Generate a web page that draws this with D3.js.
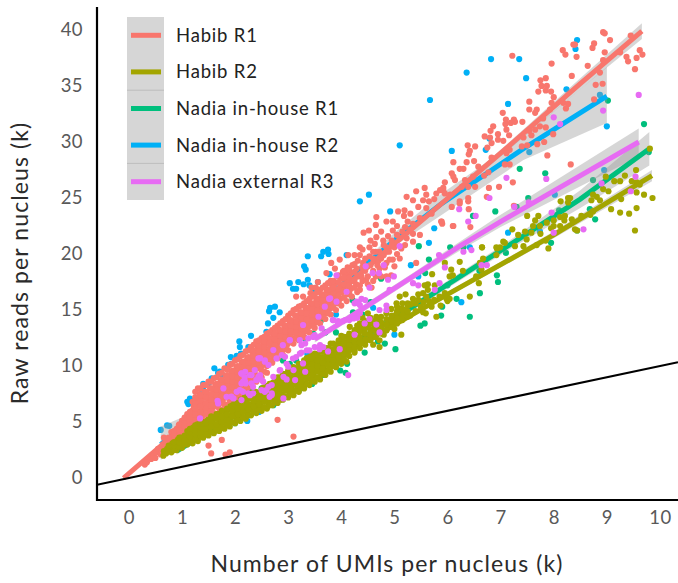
<!DOCTYPE html>
<html>
<head>
<meta charset="utf-8">
<script src="https://cdn.jsdelivr.net/npm/d3@7"></script>
<style>
  body { margin: 0; background: #fff; }
  text { font-family: Lato, sans-serif; }
</style>
</head>
<body>
<div id="chart-area"></div>
<script>
var xTicks = [0,1,2,3,4,5,6,7,8,9,10];
var yTicks = [0,5,10,15,20,25,30,35,40];
var names = ["Habib R1","Habib R2","Nadia in-house R1","Nadia in-house R2","Nadia external R3"];
var colors = ["#F8766D","#A3A500","#00BF7D","#00B0F6","#E76BF3"];

// fitted lines: x, y, lower, upper
var fitHabib1 = [[-.1,0,-.1,.1],[1,4.5,4.35,4.65],[3,12.7,12.55,12.85],[5,20.9,20.7,21.1],[7,29,28.7,29.3],[8.5,35.2,34.7,35.7],[9.66,39.9,39.2,40.6]];
var fitHabib2 = [[.6,2.2,2,2.4],[2,5.7,5.55,5.85],[3.5,9.6,9.45,9.75],[6,16.4,16.2,16.6],[8,21.7,21.4,22],[9.85,27,26.5,27.5]];
var fitNadia1 = [[.9,2.4,2.1,2.7],[2,5.6,5.4,5.8],[3.5,9.9,9.7,10.1],[5.35,15.3,15,15.6],[7.23,21,20.6,21.4],[8.5,24.9,24.1,25.7],[9.8,29.4,27.9,30.9]];
var fitNadia2 = [[.6,3,1.6,4.6],[1,4.5,3.2,5.4],[2,8.8,8.4,9.2],[4,17.2,16.9,17.5],[5,21.2,20.7,21.9],[5.86,24.4,23.4,25.3],[7.43,29.4,28.4,30.5],[9,34.1,31.7,36.7]];
var fitNadia3 = [[3.5,12.4,12.1,12.7],[3.78,13.2,12.9,13.5],[5.35,18,17.7,18.3],[6.23,20.7,20.3,21.1],[7,22.9,22.4,23.5],[9.6,30,28.7,31.2]];

var ptsHabib1 = [
[.3,1.2],[.34,1.4],[.42,1.7],[.46,2],[.5,1.8],[.52,2.3],[.55,2.6],[.6,2.1],[.62,2.6],[.64,3],[.7,2.4],[.68,2.9],[.72,3.4],[.66,3.6],
[.8,2.8],[.78,3.3],[.82,3.8],[.8,4.1],[.9,3],[.88,3.5],[.92,3.9],[.9,4.4],[.94,4.7],[1,3.2],[1.02,3.7],[.98,4.2],[1.03,4.7],[1,5.1],
[1.1,3.6],[1.08,4],[1.12,4.4],[1.09,4.9],[1.11,5.3],[1.1,5.7],[1.2,4.4],[1.22,4.8],[1.18,5.2],[1.21,5.6],[1.19,6],[1.22,6.4],[1.2,6.8],
[1.3,5],[1.32,5.5],[1.28,6],[1.31,6.5],[1.29,7],[1.33,7.5],[1.3,8],
[1.4,5.2],[1.38,5.7],[1.42,6.2],[1.39,6.7],[1.41,7.2],[1.43,7.7],[1.4,8.3],
[1.5,5.5],[1.52,6],[1.48,6.5],[1.51,7],[1.49,7.5],[1.53,8],[1.5,8.6],
[1.6,5.8],[1.58,6.3],[1.62,6.8],[1.59,7.3],[1.61,7.8],[1.63,8.3],[1.6,8.9],
[1.7,6.2],[1.72,6.7],[1.68,7.2],[1.71,7.7],[1.69,8.2],[1.73,8.7],[1.7,9.3],
[1.8,6.6],[1.78,7.1],[1.82,7.6],[1.79,8.1],[1.81,8.6],[1.83,9.1],[1.8,9.8],
[1.9,7],[1.92,7.5],[1.88,8],[1.91,8.5],[1.89,9],[1.93,9.5],[1.9,10.1],
[2,7.4],[1.98,7.9],[2.02,8.4],[1.99,8.9],[2.01,9.4],[2.03,9.9],[2,10.5],
[2.1,7.8],[2.12,8.3],[2.08,8.8],[2.11,9.3],[2.09,9.8],[2.13,10.3],[2.1,10.9],
[2.2,8.2],[2.18,8.7],[2.22,9.2],[2.19,9.7],[2.21,10.2],[2.23,10.7],[2.2,11.3],
[2.3,8.6],[2.32,9.1],[2.28,9.6],[2.31,10.1],[2.29,10.6],[2.33,11.1],[2.3,11.7],
[2.4,9.2],[2.38,9.7],[2.42,10.2],[2.39,10.7],[2.41,11.2],[2.43,11.7],[2.4,12.2],
[2.5,9.6],[2.52,10.1],[2.48,10.6],[2.51,11.1],[2.49,11.6],[2.53,12.1],[2.5,12.5],
[2.6,10],[2.58,10.5],[2.62,11],[2.59,11.5],[2.61,12],[2.63,12.5],[2.6,12.9],
[2.7,10.3],[2.72,10.8],[2.68,11.3],[2.71,11.8],[2.69,12.3],[2.73,12.8],[2.7,13.2],
[2.8,10.7],[2.78,11.2],[2.82,11.7],[2.79,12.2],[2.81,12.7],[2.83,13.2],[2.8,13.6],
[2.9,11],[2.92,11.5],[2.88,12],[2.91,12.5],[2.89,13],[2.93,13.5],[2.9,14],
[3,11.4],[2.98,11.9],[3.02,12.4],[2.99,12.9],[3.01,13.4],[3.03,13.9],[3,14.5],
[3.1,12],[3.12,12.5],[3.08,13],[3.11,13.5],[3.09,14],[3.13,14.5],[3.1,15],
[3.2,12.3],[3.18,12.8],[3.22,13.3],[3.19,13.8],[3.21,14.3],[3.23,14.8],[3.2,15.3],
[3.3,12.6],[3.32,13.1],[3.28,13.6],[3.31,14.1],[3.29,14.6],[3.33,15.1],[3.3,15.6],[3.15,16.2],[3.28,16.2],
[3.4,13],[3.38,13.5],[3.42,14],[3.39,14.5],[3.41,15],[3.43,15.5],[3.4,16],[3.44,17],[3.42,16.5],
[3.5,13.4],[3.52,13.9],[3.48,14.4],[3.51,14.9],[3.49,15.4],[3.53,15.9],[3.5,16.4],[3.52,17],[3.56,17.5],
[3.6,13.8],[3.58,14.3],[3.62,14.8],[3.59,15.3],[3.61,15.8],[3.63,16.3],[3.6,16.8],[3.72,18.3],
[3.7,14.2],[3.72,14.7],[3.68,15.2],[3.71,15.7],[3.69,16.2],[3.73,16.7],[3.7,17.2],[3.81,19.2],
[3.8,14.6],[3.78,15.1],[3.82,15.6],[3.79,16.1],[3.81,16.6],[3.83,17.1],[3.8,17.6],[3.88,18.7],[3.97,19.5],
[3.9,15],[3.92,15.6],[3.88,16.2],[3.91,16.8],[3.89,17.4],[3.93,18],
[4,15.4],[3.98,16],[4.02,16.6],[3.99,17.2],[4.01,17.8],[4.03,18.4],[4.13,19.9],[4.25,19.9],
[4.1,15.8],[4.12,16.4],[4.08,17],[4.11,17.6],[4.09,18.2],[4.12,18.8],
[4.2,16.2],[4.18,16.9],[4.22,17.6],[4.19,18.3],[4.21,19],[4.35,20.6],[4.53,20.6],
[4.3,16.6],[4.28,17.3],[4.32,18],[4.29,18.7],[4.31,19.4],[4.35,16.8],[4.41,19.2],[4.35,19.9],
[4.47,17.7],[4.57,17],[4.53,19.8],[4.45,18.5],[4.52,22.1],[4.42,21.9],[4.66,23.3],[4.65,22.6],[4.66,21.5],[4.63,20.9],[4.79,21.2],[4.85,20.6],
[4.72,18.7],[4.85,18],[4.94,18.1],[5,18.9],[4.91,19.5],[4.97,19.5],[4.85,22.9],[4.97,22.9],[4.97,22.1],[5.07,23.8],[5.19,23.9],[5.18,23.4],
[5,20.6],[5.13,20.5],[5.1,21.4],[5.23,21.4],[5.35,21.1],[5.35,21.8],[5.48,21.7],[5.35,22.7],[5.48,23.2],[5.6,24.1],[5.7,23.6],[5.35,24.8],[5.54,24.8],
[5.23,25.1],[5.41,25.6],[5.57,25.9],[5.6,25.3],[5.79,25.4],[5.92,25.7],[5.41,19.2],[5.88,22.9],[5.9,22.7],[6.1,22.5],[6.23,24.7],[6.4,24],
[4.6,19.6],[4.72,20.2],[4.55,21.2],[4.9,20.2],[4.75,22],[4.88,21.6],[5.05,22.5],[5.2,22.4],[5.25,22.9],[5.3,23.6],[5.45,24.2],[5.65,24.7],[5.75,24.9],
[4.5,18.9],[4.6,18.5],[4.4,20.4],[4.7,19.4],[4.8,19.9],[4.65,20.2],[4.8,20.8],[4.95,21.2],[5.05,21.7],[5.15,22],[5.3,22.2],[4.4,17.6],[4.5,17.3],[4.65,18],
[8.93,39.8],[8.96,39.7],[9.45,39.5],[9.62,38.2],[9.67,37.8],[9.56,37.5],[9.37,37.6],[9.4,37.2],[9.53,36.5],[9.06,39.1],[8.37,38.7],[8.4,38.7],[8.76,38.8],[8.73,38.4],
[8.17,38.2],[8.22,37.8],[8.43,37.6],[8.96,38],[9.25,38],[7.96,37],[8.64,36.8],[7.22,37.7],[8.34,35.9],[8.87,36.2],[8.93,37.3],[8.79,35.1],[8.92,35.2],[7.75,35.5],
[7.85,35.7],[7.77,35],[7.87,35],[7.85,34.6],[7.71,34.5],[7.95,34.5],[8,34],[7.54,33.6],[7.96,33.5],[8.18,33.5],[8.27,33.4],[8.76,33.8],[7.54,32.9],[7.68,32.9],
[7.65,32.6],[7.93,32.9],[8.23,33],[7.04,32.6],[7.1,32],[7.25,32],[7.19,31.7],[7.27,31.8],[7.41,31.8],[7.09,31.6],[7.8,32.1],[6.86,31.4],[6.81,31],[7.11,31.1],
[6.7,30.5],[6.95,30.7],[7.16,30.6],[7.54,31],[7.65,31.1],[7.74,31.4],[7.85,31.3],[7.58,30.6],[7.99,30.7],[7.43,30.4],[6.8,30.4],[6.95,30.2],[7.05,30.1],[6.83,29.9],
[6.75,29.5],[6.52,29.6],[6.38,29.7],[6.42,29.2],[6.4,28.9],[7.4,29.6],[7.5,29.7],[7.69,29.8],[7.82,30],[7.17,29.3],[7.11,29],[7.88,28.8],[6.83,28.6],[6.11,28.2],
[6.5,28.3],[6.36,28.2],[7.08,28],[7.17,28],[8.32,28],[6.58,27.8],[6.23,27.6],[6.3,27.6],[6.08,27.2],[6.11,26.9],[6.48,26.9],[6.77,27.3],[6.69,27],[6.14,26.6],
[5.95,26.4],[6.33,26.6],[6.27,26],[6.39,26],[6.52,26],[7.23,26.4],[6.97,26],[6.78,25.9],[5.92,25.9],[5.86,25.7],[5.95,25.4],[6.05,25.3],[6.74,25.1],[6.39,25],
[6.23,24.5],[6.08,24.2],[6.39,24.7],[7.25,24.3],[5.89,22.9],[6.11,22.5],[6.43,22.4],
[1.75,3.4],[1.5,2.9],[1.55,2.2],[1.82,2.1],[1.9,2.3],[2.8,5.2],[3.1,3.7]
];

// densest part of the Habib R1 cloud
var coreHabib1 = [
[.75,2.6],[.75,3.1],[.75,3.6],[.85,2.9],[.85,3.4],[.85,3.9],[.85,4.2],[.95,3.3],[.95,3.8],[.95,4.3],[.95,4.8],[1.05,3.6],[1.05,4.1],[1.05,4.6],[1.05,5.1],[1.05,5.4],[1.15,4.2],[1.15,4.6],[1.15,5.1],[1.15,5.5],[1.15,5.9],
[1.25,5.2],[1.25,5.7],[1.25,6.2],[1.25,6.7],[1.25,7.2],[1.25,7.7],[1.35,5.4],[1.35,5.9],[1.35,6.4],[1.35,6.9],[1.35,7.4],[1.35,8],
[1.45,5.7],[1.45,6.2],[1.45,6.7],[1.45,7.2],[1.45,7.7],[1.45,8.3],[1.55,6],[1.55,6.5],[1.55,7],[1.55,7.5],[1.55,8],[1.55,8.6],
[1.65,6.4],[1.65,6.9],[1.65,7.4],[1.65,7.9],[1.65,8.4],[1.65,9],[1.75,6.8],[1.75,7.3],[1.75,7.8],[1.75,8.3],[1.75,8.8],[1.75,9.4],
[1.85,7.2],[1.85,7.7],[1.85,8.2],[1.85,8.7],[1.85,9.2],[1.85,9.7],[1.95,7.6],[1.95,8.1],[1.95,8.6],[1.95,9.1],[1.95,9.6],[1.95,10.2],
[2.05,8],[2.05,8.5],[2.05,9],[2.05,9.5],[2.05,10],[2.05,10.6],[2.15,8.4],[2.15,8.9],[2.15,9.4],[2.15,9.9],[2.15,10.4],[2.15,11],
[2.25,8.8],[2.25,9.3],[2.25,9.8],[2.25,10.3],[2.25,10.8],[2.25,11.4],[2.35,9.4],[2.35,9.9],[2.35,10.4],[2.35,10.9],[2.35,11.4],[2.35,11.9],
[2.45,9.8],[2.45,10.3],[2.45,10.8],[2.45,11.3],[2.45,11.8],[2.45,12.3],[2.55,10.2],[2.55,10.7],[2.55,11.2],[2.55,11.7],[2.55,12.2],[2.55,12.6],
[2.65,10.5],[2.65,11],[2.65,11.5],[2.65,12],[2.65,12.5],[2.65,13],[2.75,10.9],[2.75,11.4],[2.75,11.9],[2.75,12.4],[2.75,12.9],[2.75,13.4],
[2.85,11.2],[2.85,11.7],[2.85,12.2],[2.85,12.7],[2.85,13.2],[2.85,13.8],[2.95,11.6],[2.95,12.1],[2.95,12.6],[2.95,13.1],[2.95,13.6],[2.95,14.2],
[3.05,12.1],[3.05,12.6],[3.05,13.1],[3.05,13.6],[3.05,14.1],[3.05,14.7],[3.15,12.5],[3.15,13],[3.15,13.5],[3.15,14],[3.15,14.5],[3.15,15.1],
[3.25,12.8],[3.25,13.3],[3.25,13.8],[3.25,14.3],[3.25,14.8],[3.25,15.4],[3.35,13.2],[3.35,13.7],[3.35,14.2],[3.35,14.7],[3.35,15.2],[3.35,15.8],
[3.45,13.6],[3.45,14.1],[3.45,14.6],[3.45,15.1],[3.45,15.6],[3.45,16.2],[3.55,14],[3.55,14.5],[3.55,15],[3.55,15.5],[3.55,16],[3.55,16.6],
[3.65,14.4],[3.65,14.9],[3.65,15.4],[3.65,15.9],[3.65,16.4],[3.65,17],[3.75,14.8],[3.75,15.3],[3.75,15.8],[3.75,16.3],[3.75,16.8],[3.75,17.4],
[3.85,15.2],[3.85,15.8],[3.85,16.4],[3.85,17],[3.85,17.6],[3.95,15.7],[3.95,16.3],[3.95,16.9],[3.95,17.5],[3.95,18.1],
[4.05,16.1],[4.05,16.7],[4.05,17.3],[4.05,17.9],[4.05,18.5],[4.15,16.5],[4.15,17.2],[4.15,17.9],[4.15,18.6],[4.25,17],[4.25,17.7],[4.25,18.4],[4.25,19.1],
[1.7,5.8],[1.8,6.2],[1.9,6.7],[2,7],[2.05,7.3],[2.1,7.4],[2.15,7.7],[2.2,7.8],[2.25,8.1],[2.3,8.2],[2.35,8.6],[2.4,8.6],[2.45,9.1],[2.5,9],[2.55,9.5],[2.6,9.4],
[4.35,17.2],[4.38,18],[4.4,18.8],[4.45,19.6],[4.5,18],[4.55,19],[4.6,17.6],[4.6,20.2],[4.68,19],[4.75,18],[4.75,19.6],[4.82,18.8],[4.85,19.2],[4.85,20.2],[4.95,20.8],[5.05,20],[5.1,19.6],[5.2,20.8]
];

var ptsHabib2 = [
[.65,2],[.66,2.4],[.7,2.2],[.72,2.6],[.8,2.3],[.78,2.7],[.82,3.1],[.9,2.5],[.88,3],[.92,3.4],[1,2.7],[1.02,3.2],[.98,3.6],
[1.1,3],[1.08,3.5],[1.12,3.9],[1.1,4.2],[1.2,3.1],[1.22,3.6],[1.18,4.1],[1.21,4.5],[1.3,3.3],[1.28,3.8],[1.32,4.3],[1.29,4.8],
[1.4,3.6],[1.42,4.1],[1.38,4.6],[1.41,5],[1.5,3.8],[1.48,4.3],[1.52,4.8],[1.49,5.2],[1.6,4],[1.62,4.5],[1.58,5],[1.61,5.4],
[1.7,4.2],[1.68,4.7],[1.72,5.2],[1.69,5.7],[1.8,4.4],[1.82,4.9],[1.78,5.4],[1.81,5.9],[1.9,4.6],[1.88,5.1],[1.92,5.6],[1.89,6.1],[1.91,6.4],
[2,4.9],[2.02,5.4],[1.98,5.9],[2.01,6.4],[1.99,6.7],[2.1,5.1],[2.08,5.6],[2.12,6.1],[2.09,6.6],[2.11,7],
[2.2,5.3],[2.22,5.8],[2.18,6.3],[2.21,6.8],[2.19,7.3],[2.3,5.6],[2.28,6.1],[2.32,6.6],[2.29,7.1],[2.31,7.6],
[2.4,5.8],[2.42,6.3],[2.38,6.8],[2.41,7.3],[2.39,7.7],[2.5,6],[2.48,6.5],[2.52,7],[2.49,7.5],[2.51,8],
[2.6,6.2],[2.62,6.7],[2.58,7.2],[2.61,7.7],[2.59,8.2],[2.7,6.5],[2.68,7],[2.72,7.5],[2.69,8],[2.71,8.5],
[2.8,6.7],[2.82,7.2],[2.78,7.7],[2.81,8.2],[2.79,8.7],[2.8,9],[2.9,7],[2.88,7.5],[2.92,8],[2.89,8.5],[2.91,9],[2.9,9.3],
[3,7.2],[3.02,7.7],[2.98,8.2],[3.01,8.7],[2.99,9.2],[3,9.6],[3.1,7.4],[3.08,7.9],[3.12,8.4],[3.09,8.9],[3.11,9.4],[3.1,9.9],
[3.2,7.7],[3.22,8.2],[3.18,8.7],[3.21,9.2],[3.19,9.7],[3.2,10.2],[3.3,8],[3.28,8.5],[3.32,9],[3.29,9.5],[3.31,10],[3.3,10.5],
[3.4,8.3],[3.42,8.8],[3.38,9.3],[3.41,9.8],[3.39,10.3],[3.4,10.8],[3.5,8.6],[3.48,9.1],[3.52,9.6],[3.49,10.1],[3.51,10.6],[3.5,11.1],
[3.6,8.8],[3.62,9.3],[3.58,9.8],[3.61,10.3],[3.59,10.8],[3.6,11.3],[3.7,9.2],[3.68,9.7],[3.72,10.2],[3.69,10.7],[3.71,11.2],[3.7,11.6],
[3.8,9.5],[3.82,10],[3.78,10.5],[3.81,11],[3.79,11.5],[3.8,12],[3.9,9.9],[3.88,10.4],[3.92,10.9],[3.89,11.4],[3.91,11.9],
[4,10.2],[4.02,10.7],[3.98,11.2],[4.01,11.7],[3.99,12.2],[4,12.7],[4.1,10.4],[4.08,11],[4.12,11.6],[4.09,12.1],[4.11,12.6],
[4.16,13.5],[4.16,12.3],[4.06,11.7],[4.25,11.4],[4.28,13.2],[4.35,13.8],[4.35,12.3],[4.44,12.9],[4.53,12.8],[4.6,11.9],[4.72,11.7],[4.85,13.2],[4.72,12.3],[4.63,13.5],
[4.5,14.7],[5.04,15.6],[5.1,16.2],[4.94,15.1],[5.13,15.1],[5,14.5],[4.85,14.7],[4.66,14.4],[4.72,14.1],[4.88,14],[5,14],[5.13,14.4],[5.13,12.8],[5.21,16.4],
[4.2,11.8],[4.25,12.4],[4.3,13.6],[4.4,13.2],[4.45,12.2],[4.5,13.5],[4.55,14],[4.6,12.6],[4.7,13.3],[4.8,13.7],[4.8,12.8],[4.9,13.5],[5,13.3],[5.05,14.9],[4.95,14.4],
[5.2,15],[5.25,15.6],[5.3,14.5],[5.4,15.6],[5.45,16.4],[5.5,15.3],[5.35,16],[5.55,15.7],[5.65,15.8],[5.75,15.9],[5.85,16.2],[5.95,16.5],[6,15.8],
[5.54,16.5],[5.63,16.8],[5.45,15.9],[5.6,16.2],[5.7,15.3],[5.87,15.4],[5.79,14.4],[5.54,14.8],[5.59,14.7],[5.57,17.2],[5.63,17.3],[5.76,17.2],[5.98,16],[6.04,16],
[6.42,16.2],[5.71,18.2],[6.07,18.6],[6.1,18.1],[6.04,18],[6.29,18.5],[5.95,19.2],[6.23,19.3],[6.65,20.6],[6.93,20.5],[6.67,19.6],[6.61,19.2],[6.64,18.6],[6.54,18],
[6.59,17.4],[6.92,19.9],[5.3,15.5],[5.4,14.9],[5.25,14.6],[5.35,15.6],[4.4,14.3],[4.2,12.8],[4.3,12],[4.45,13.4],[4.55,13.2],[4.75,13.3],
[9.81,29.4],[9.55,27.5],[8.98,26.9],[9.34,27],[9.14,26.5],[9.25,26.5],[9.56,26.4],[9.62,26.2],[9.47,26.5],[9.56,25.5],[9.7,25.3],[9.86,25],[9.27,24.9],[8.93,25.8],
[9.03,25.6],[8.74,25.3],[8.81,25.1],[8.87,24.8],[8.71,24.8],[8.13,24.7],[8.27,25],[8.31,25],[8.27,24.6],[9.08,24],[9.25,23.7],[9.42,23.6],[9.56,24.1],[9.53,22.1],
[8.74,23.8],[8.69,23.5],[8.52,23.4],[8.34,23.1],[8.21,23.4],[8.12,23.3],[8,23],[7.87,22.8],[7.74,22.5],[7.5,23.4],[7.71,23.4],[7.65,23],[7.61,22.5],[7.58,21.9],
[7.46,22],[7.33,21.7],[7.22,22.2],[7.08,21],[7.05,21.1],[7.49,21.3],[7.43,20.7],[7.68,20.8],[7.85,21.2],[7.9,20.5],[8.4,22.2],[8.44,22.1],[6.65,20.6],[6.92,20.6],
[6.99,20.6],[7.27,20.7],[8.12,22.5],[8,22.5],[8.2,23],[7.95,22.3],[7.75,21.8]
];

// densest part of the Habib R2 cloud
var coreHabib2 = [
[.75,2.4],[.75,2.9],[.85,2.5],[.85,2.9],[.85,3.2],[.95,2.8],[.95,3.2],[.95,3.6],[1.05,3],[1.05,3.4],[1.05,3.8],[1.15,3.3],[1.15,3.7],[1.15,4.1],[1.15,4.4],[1.25,3.5],[1.25,3.9],[1.25,4.3],[1.25,4.7],[1.35,3.7],[1.35,4.1],[1.35,4.5],[1.35,4.9],
[1.45,3.9],[1.45,4.4],[1.45,4.9],[1.55,4.1],[1.55,4.6],[1.55,5.1],[1.55,5.5],[1.65,4.3],[1.65,4.8],[1.65,5.3],[1.65,5.7],[1.75,4.5],[1.75,5],[1.75,5.5],[1.75,6],[1.85,4.7],[1.85,5.2],[1.85,5.7],[1.85,6.2],
[1.95,5],[1.95,5.5],[1.95,6],[1.95,6.5],[2.05,5.2],[2.05,5.7],[2.05,6.2],[2.05,6.7],[2.15,5.4],[2.15,5.9],[2.15,6.4],[2.15,6.9],[2.25,5.6],[2.25,6.1],[2.25,6.6],[2.25,7.1],[2.25,7.4],
[2.35,5.9],[2.35,6.4],[2.35,6.9],[2.35,7.4],[2.45,6.1],[2.45,6.6],[2.45,7.1],[2.45,7.6],[2.55,6.3],[2.55,6.8],[2.55,7.3],[2.55,7.8],[2.55,8.1],[2.65,6.5],[2.65,7],[2.65,7.5],[2.65,8],[2.65,8.4],
[2.75,6.8],[2.75,7.3],[2.75,7.8],[2.75,8.3],[2.75,8.7],[2.85,7],[2.85,7.5],[2.85,8],[2.85,8.5],[2.85,9],[2.95,7.3],[2.95,7.8],[2.95,8.3],[2.95,8.8],[2.95,9.3],[3.05,7.5],[3.05,8],[3.05,8.5],[3.05,9],[3.05,9.5],
[3.15,7.8],[3.15,8.3],[3.15,8.8],[3.15,9.3],[3.15,9.8],[3.25,8.1],[3.25,8.6],[3.25,9.1],[3.25,9.6],[3.25,10.1],[3.35,8.4],[3.35,8.9],[3.35,9.4],[3.35,9.9],[3.35,10.4],[3.35,10.7],
[3.45,8.7],[3.45,9.2],[3.45,9.7],[3.45,10.2],[3.45,10.7],[3.45,11],[3.55,9],[3.55,9.5],[3.55,10],[3.55,10.5],[3.55,11],[3.65,9.3],[3.65,9.8],[3.65,10.3],[3.65,10.8],[3.65,11.3],
[3.75,9.6],[3.75,10.1],[3.75,10.6],[3.75,11.1],[3.75,11.6],[3.85,10],[3.85,10.5],[3.85,11],[3.85,11.5],[3.85,12],[3.95,10.3],[3.95,10.8],[3.95,11.3],[3.95,11.8],[3.95,12.3],
[4.05,10.6],[4.05,11.1],[4.05,11.6],[4.05,12.1],[4.05,12.6],[4.15,10.9],[4.15,11.4],[4.15,11.9],[4.15,12.4],[4.15,12.9],[4.25,11.2],[4.25,11.7],[4.25,12.2],[4.25,12.7],[4.25,13.2],
[4.35,11.6],[4.35,12.1],[4.35,12.6],[4.35,13.1],[4.35,13.5],[4.45,11.9],[4.45,12.4],[4.45,12.9],[4.45,13.4],[4.45,14],[4.55,12.3],[4.55,12.8],[4.55,13.3],[4.55,13.8],[4.55,14.3],
[4.65,12.6],[4.65,13.1],[4.65,13.6],[4.65,14.1],[4.75,12.9],[4.75,13.4],[4.75,13.9],[4.75,14.4],[4.85,13.2],[4.85,13.7],[4.85,14.2],[4.95,13.5],[4.95,14],[4.95,14.5],
[5.05,13.8],[5.05,14.3],[5.05,14.8],[5.05,15.3],[5.15,14.1],[5.15,14.6],[5.15,15.1],[5.15,15.6],[5.25,14.4],[5.25,14.9],[5.25,15.4]
];

var ptsNadia1 = [
[9.02,33.7],[9.7,31.6],[9.79,29.1],[7.36,27.6],[7.84,27.2],[7.52,25],[6.48,23.4],[6.9,23.8],[8.74,26.6],[7.3,24.2],[6.05,20.6],[6.3,20.6],[7.95,21],[8.78,23.1],[8.44,22.1],[8.68,24],
[5.46,20.7],[5.58,18.3],[4.55,15.7],[4.75,17.8],[4.22,14.8],[6.17,16],[6.42,14.4],[6.61,16.5],[5.88,14.5],[5.57,13.8],[5.49,13.6],[5.02,11.5],[4.44,11.2],[4.82,12],[4.69,12.2],
[4.11,10.2],[3.98,9.6],[4.08,9.4],[3.67,9.2],[4.21,15.9],[3.15,10.5],[3.7,13],[3.47,12.9],[3.61,14],[6.93,18.1],[6.95,17.5],[3.2,7.8],[3.45,8.4],[2.81,7],[2.72,6.5],[2,4.9],[3.03,10.2],
[2.5,8],[2.9,10.5],[3.3,12.5],[3.9,13],[4.4,14.6],[2.3,7.8],[5.65,19.5],[6,17.2],[5.9,15.3],[6.6,18.5],[7.1,20.1],[8.1,23.9]
];

var ptsNadia2 = [
[6.82,37.4],[7.35,37.4],[6.36,36.2],[7.48,35.7],[8.44,39.1],[8.41,38.3],[8.24,34.7],[7.14,33.4],[6.79,30.3],[6.08,29.2],[6.72,29.3],[7.54,29.1],[8.87,34.2],[9,31.4],[8.02,25.3],[8.95,27.5],[7.14,21.9],[6.42,20.6],[7.74,22],
[5.67,33.75],[5.1,29.7],[4.52,25.3],[4.35,24.7],[4.92,23.8],[3.66,20.2],[3.75,20.4],[3.62,19.8],[3.76,20],[3.37,19.8],[3.3,18.9],[3.33,18.6],[3.03,17.4],[3.09,16.9],[3.15,16.9],[3.19,17.5],[3.29,17.3],[3.37,17.7],[3.4,17.2],[3.49,16.8],[3.56,17.5],[3.78,18.2],
[5.31,19],[5.65,21],[5.75,22.3],[6.26,15.7],[5,12.8],[5.45,18],[2.84,14.8],[.6,4.3],[.72,4.7],[.76,4.66],[1.15,7.1],[1.1,6.8],[1.18,6.9],[1.12,6.6],[1.35,7.5],[1.4,8.4],[1.4,8.1],[1.51,8.5],[1.56,8.9],[1.61,9.8],[1.68,9.4],[1.71,9.5],[1.76,9.2],
[1.87,10.1],[1.93,10.2],[1.92,10.8],[2.03,10.9],[2.11,11.1],[2.09,11.7],[2.08,12.2],[2.25,11.7],[2.3,12.7],[2.59,13.05],[2.23,5.1],[2.45,5.9],[2.05,5.5],[3.36,11.1],[2.62,13.8],[2.72,14.3],[2.64,14.9],[2.66,15.2],[2.75,15.3],[3.7,16],[4.1,19.9],[4.6,15.2],[3.9,14.6]
];

var ptsNadia3 = [
[9.6,34.2],[8.93,32.8],[8,32.2],[8.12,31.6],[7.11,26.8],[7.86,26.7],[6.79,25],[6.22,24],[6.53,23.4],[6.39,22.9],[7.53,24.6],[7.26,24.2],[7.96,23.7],[9.54,26.9],[8.9,26.3],[9.45,25.6],[8.56,22.2],[8,21.9],
[5.1,20.7],[4.46,18.9],[4.59,18.3],[4.71,18.3],[4.8,19],[4.88,17.7],[4.99,18],[4.53,17],[3.91,18.1],[3.77,16],[5.84,19.9],[5.95,18.8],[5.35,17.4],[5.45,17.2],[5.85,17.4],[5.76,16.8],[6.45,20.35],[6.3,20.2],[6.64,19],[6.74,19],[4.91,16.8],
[4.25,15.6],[4.32,15.6],[4.38,16],[4.85,15.4],[4.72,15],[4.85,15],[4.53,14.2],[4.44,13.8],[4.66,13.7],[4.72,13],[4.25,12.8],[3.84,14.1],[3.94,14],[4.03,14],[4.15,14.1],[4.3,14.3],
[1.78,8],[1.93,7.26],[2.12,9.34],[2.19,9.49],[2.31,9.19],[2.37,9.64],[2.44,10.68],[2.47,9.19],[2.56,10.38],[2.63,10.09],[2.72,11.42],[2.78,10.68],[2.88,10.98],[2.94,10.83],[3.03,12.32],[3.22,12.32],[3.32,12.02],[3.38,12.47],[3.5,12.76],[3.63,13.36],
[3.79,16.04],[3.91,15.74],[3.94,13.8],[4.07,14.1],[4.29,15.74],[4.35,15.44],[4.45,15.89],[4.23,14.25],[4.35,14.7],[4.1,16.63],[3.57,14.4],[3.69,15.3],[3.85,14.1],[3.28,13.66],[2.91,9.04],[3,9.94],[3.1,9.64],[3.28,10.23],[2.85,9.64],[2.72,9.04],
[2.63,8.15],[2.5,8.75],[2.44,9.04],[2.34,7.56],[2.25,7.56],[2.12,6.96],[2.12,8.45],[2.19,8.6],[2.31,8.45],[1.97,7.11],[1.68,6.66],[1.34,5.32],[4.13,9.19],[3.32,9.49],[3.13,8.75],[2.97,8.8],[2.69,7.41],[2.56,7.7],[2.91,7.11],
[1.67,6.9],[1.84,7.25],[3.4,11.4],[3.5,11.7],[3.59,11.5],[3.66,11.7],[3.75,11.3],[3.97,11.5],[3.15,10.8],[3.25,11.2],
[2.09,7.84],[2.03,7.7],[2.15,7.7],[2.34,8.14],[2.5,7.84],[2.59,7.84],[2.28,7.4],[2.12,9.33],[2.18,9],[2.15,8.6],[2.2,8.44],[2.28,9.2],[2.4,8.74],[2.47,8.9],[2.53,8.6],[2.47,10.7],[2.56,10.5],[2.69,8.3],[2.69,7.55],[2.65,7.25],
[2.9,11.86],[3.03,12.3],[3.25,11.86],[3.47,12.6],[3.6,11.86],[2.84,9.6],[2.97,10.2],[3.09,10.67],[3.22,11.1],[3.35,11.4]
];

var margin = {left:97, top:7, bottom:83, right:0};
var width = 678 - margin.left - margin.right;
var height = 583 - margin.top - margin.bottom;

var svg = d3.select("#chart-area")
    .append("svg")
        .attr("width", 678)
        .attr("height", 583)
        .style("display", "block");

var g = svg.append("g")
    .attr("transform", "translate(" + margin.left + ", " + margin.top + ")");

var x = d3.scaleLinear().domain([-0.6, 10.34]).range([0, width]);
var y = d3.scaleLinear().domain([-1.96, 42.05]).range([height, 0]);

svg.append("clipPath").attr("id", "panel")
  .append("rect").attr("width", width).attr("height", height);

// x axis, y axis
var xAxisCall = d3.axisBottom(x).tickValues(xTicks).tickSize(0).tickPadding(11);
var xAxisG = g.append("g").attr("transform", "translate(0, " + height + ")").call(xAxisCall);
var yAxisCall = d3.axisLeft(y).tickValues(yTicks).tickSize(0).tickPadding(14);
var yAxisG = g.append("g").call(yAxisCall);
[xAxisG, yAxisG].forEach(function(a) {
    a.select(".domain").remove();
    a.selectAll("text").attr("font-size", "18.5px").attr("fill", "#595959")
        .attr("letter-spacing", "0.4px").style("font-family", "Lato, sans-serif");
});

g.append("text")
    .attr("x", 290)
    .attr("y", height + 72)
    .attr("text-anchor", "middle")
    .attr("font-size", "23px")
    .attr("letter-spacing", "1.1px")
    .attr("fill", "#2b2b2b")
    .text("Number of UMIs per nucleus (k)");

g.append("text")
    .attr("x", -256)
    .attr("y", -69)
    .attr("transform", "rotate(-90)")
    .attr("text-anchor", "middle")
    .attr("font-size", "23px")
    .attr("letter-spacing", "1.1px")
    .attr("fill", "#2b2b2b")
    .text("Raw reads per nucleus (k)");

var plot = g.append("g").attr("clip-path", "url(#panel)");

var line = d3.line().x(function(d){ return x(d[0]); }).y(function(d){ return y(d[1]); });
var band = d3.area().x(function(d){ return x(d[0]); }).y0(function(d){ return y(d[2]); }).y1(function(d){ return y(d[3]); });

function drawPoints(pts, color) {
    plot.append("g").selectAll("circle")
        .data(pts)
        .enter().append("circle")
            .attr("cx", function(d){ return x(d[0]); })
            .attr("cy", function(d){ return y(d[1]); })
            .attr("r", 3.1)
            .attr("fill", color);
}
function drawBand(fit) {
    plot.append("path").attr("d", band(fit)).attr("fill", "#999999").attr("opacity", 0.4);
}
function drawFit(fit, color) {
    plot.append("path").attr("d", line(fit)).attr("fill", "none").attr("stroke", color)
        .attr("stroke-width", 5);
}

// layers: bands and fits go under the Habib points, magenta stays on top
drawPoints(ptsNadia2, colors[3]);
drawPoints(ptsNadia1, colors[2]);
drawBand(fitNadia2);
drawBand(fitNadia1);
drawBand(fitNadia3);
drawBand(fitHabib1);
drawBand(fitHabib2);
drawFit(fitNadia2, colors[3]);
drawFit(fitNadia1, colors[2]);
drawFit(fitNadia3, colors[4]);
drawFit(fitHabib1, colors[0]);
drawFit(fitHabib2, colors[1]);
drawPoints(ptsHabib1, colors[0]);
drawPoints(coreHabib1, colors[0]);
drawPoints(ptsHabib2, colors[1]);
drawPoints(coreHabib2, colors[1]);
drawPoints(ptsNadia3, colors[4]);

// y = x reference line
plot.append("path")
    .attr("d", line([[-0.6,-0.6],[10.34,10.34]]))
    .attr("stroke", "#000").attr("stroke-width", 2.2).attr("fill", "none");

// axis lines
g.append("path").attr("d", "M0,0V" + height + "H" + width)
    .attr("fill", "none").attr("stroke", "#000").attr("stroke-width", 2.2);

// legend
var keyY = d3.scaleBand().domain(names).range([10, 193]);
var legend = g.append("g");
legend.append("rect").attr("x", 30).attr("y", 10).attr("width", 37).attr("height", 183).attr("fill", "#d6d6d6");
var entry = legend.selectAll("g").data(names).enter().append("g")
    .attr("transform", function(d){ return "translate(0," + (keyY(d) + keyY.bandwidth() / 2) + ")"; });
entry.append("line").attr("x1", 34).attr("x2", 64).attr("stroke-width", 5)
    .attr("stroke", function(d, i){ return colors[i]; });
entry.append("text").attr("x", 79).attr("dy", "0.35em").attr("font-size", "18.5px")
    .attr("letter-spacing", "0.8px").attr("fill", "#222")
    .text(function(d){ return d; });
legend.selectAll(".sep").data([names[2], names[4]]).enter().append("line").attr("class", "sep")
    .attr("x1", 30).attr("x2", 67)
    .attr("y1", function(d){ return keyY(d); }).attr("y2", function(d){ return keyY(d); })
    .attr("stroke", "#bdbdbd").attr("stroke-width", 1);
</script>
</body>
</html>
